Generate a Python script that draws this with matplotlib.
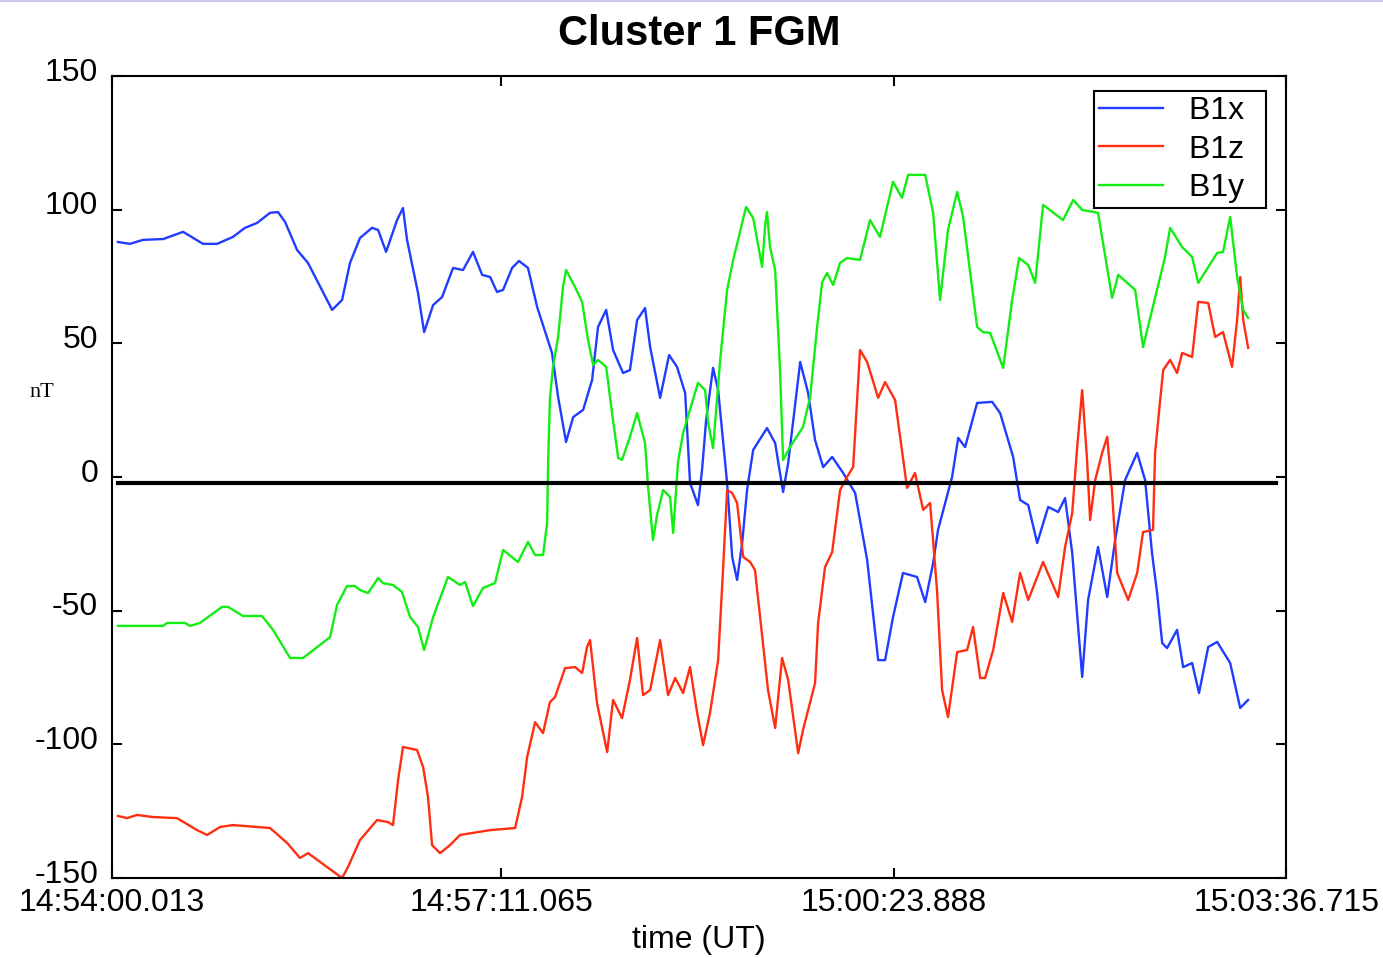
import matplotlib
matplotlib.use("Agg")
import matplotlib.pyplot as plt
import matplotlib.transforms as mtransforms
from matplotlib.lines import Line2D

# 字体设置
plt.rcParams['font.family'] = ['Liberation Sans', 'DejaVu Sans']
plt.rcParams['axes.unicode_minus'] = False

# 时间轴 (秒, 从 14:54:00.013 起)
tick_pos = [0, 191.052, 383.875, 576.702]
tick_labels = ['14:54:00.013', '14:57:11.065', '15:00:23.888', '15:03:36.715']

# B1x (蓝)
t_x = [2.9, 8.8, 15.2, 25.1, 34.9, 44.7, 51.6, 59.4, 65.3, 71.2, 77.6, 81.5, 85.0, 90.9, 96.3,
       108.1, 113.0, 116.9, 121.8, 127.7, 130.7, 134.6, 140.0, 142.9, 144.9, 150.3, 153.3, 157.7,
       162.1, 167.5, 172.4, 177.3, 181.8, 185.7, 189.1, 192.1, 196.5, 199.9, 204.3, 208.8, 216.1,
       219.1, 223.0, 226.5, 231.4, 235.8, 238.7, 242.7, 246.1, 251.0, 254.4, 257.9, 261.8, 264.3,
       269.2, 273.6, 277.5, 281.5, 283.9, 287.8, 289.8, 291.8, 295.2, 297.7, 302.1, 304.6, 307.0,
       309.5, 311.9, 314.9, 321.7, 325.7, 329.6, 332.1, 338.0, 341.9, 345.3, 349.3, 353.7, 359.1,
       365.0, 370.9, 376.3, 379.7, 383.6, 388.5, 395.4, 399.4, 403.3, 405.7, 412.6, 415.6, 419.0,
       424.9, 432.3, 436.2, 442.6, 446.0, 450.0, 454.4, 459.8, 464.7, 468.1, 471.6, 476.5, 479.4,
       484.3, 488.8, 492.7, 497.6, 503.5, 507.4, 510.8, 513.3, 515.8, 518.2, 523.1, 526.1, 530.5,
       533.9, 538.4, 542.8, 549.2, 554.1, 558.0]
b1x = [87.9, 87.2, 88.7, 89.0, 91.7, 87.2, 87.2, 89.8, 93.2, 95.0, 98.8, 99.1, 95.4, 84.9, 80.0,
       62.5, 66.2, 80.1, 89.4, 93.2, 92.4, 84.2, 96.1, 100.6, 88.7, 68.8, 54.2, 64.3,
       67.3, 78.2, 77.4, 84.2, 75.6, 74.8, 69.2, 70.0, 78.2, 80.8, 78.2, 63.6, 46.4,
       29.9, 13.1, 22.4, 25.1, 36.3, 56.1, 62.5, 47.5, 38.9, 40.0, 58.7, 63.2, 48.6,
       29.6, 45.6, 41.2, 31.4, -2.2, -10.5, 2.6, 21.3, 40.8, 32.5, -2.2, -29.9, -38.5,
       -24.7, -4.9, 10.1, 18.3, 12.7, -5.6, 5.2, 43.0, 31.4, 13.8, 3.7, 7.5, 1.5,
       -6.0, -31.1, -68.5, -68.5, -52.4, -35.9, -37.4, -46.8, -32.2, -19.8, 0.0, 14.6, 11.2,
       27.7, 28.1, 23.9, 7.5, -8.6, -10.5, -24.7, -11.2, -13.1, -7.9, -28.4, -74.8, -46.0,
       -26.2, -44.9, -23.6, -1.1, 9.0, -1.1, -28.4, -43.4, -62.1, -64.0, -57.2, -71.1, -69.6,
       -80.8, -63.6, -61.7, -69.6, -86.4, -83.4]

# B1z (红)
t_z = [2.9, 7.4, 12.3, 20.1, 31.9, 41.8, 46.7, 53.1, 59.4, 77.6, 86.0, 92.3, 96.3, 105.6, 113.0,
       115.9, 121.8, 130.2, 135.6, 138.0, 140.5, 142.9, 149.8, 152.8, 155.2, 157.2, 161.1, 166.0,
       170.9, 185.7, 198.0, 201.4, 203.9, 207.8, 211.7, 215.1, 217.6, 222.5, 227.4, 230.9, 233.3,
       234.8, 238.2, 243.2, 246.1, 250.5, 254.4, 257.9, 260.8, 264.3, 269.2, 273.1, 276.6, 280.5,
       283.9, 287.4, 290.3, 293.7, 297.7, 300.1, 302.1, 304.6, 307.0, 310.0, 313.4, 315.8, 322.2,
       325.7, 329.1, 332.1, 337.0, 339.4, 345.3, 346.8, 350.2, 353.7, 357.6, 361.0, 364.0, 367.4,
       370.9, 376.3, 379.7, 384.6, 390.5, 394.4, 398.4, 401.8, 405.2, 407.7, 410.6, 415.1, 420.0,
       422.9, 426.4, 428.8, 432.8, 437.7, 442.1, 446.0, 450.0, 457.3, 464.7, 468.1, 471.6, 474.0,
       476.5, 478.9, 480.4, 482.9, 486.3, 488.8, 491.2, 493.7, 499.1, 503.5, 506.4, 511.3, 512.3,
       514.8, 516.3, 519.7, 523.1, 525.6, 530.5, 533.5, 538.4, 541.8, 545.7, 550.1, 552.6, 554.1,
       555.6, 558.0]
b1z = [-126.8, -127.6, -126.4, -127.2, -127.6, -132.1, -133.9, -130.9, -130.2, -131.3, -136.9, -142.5,
       -140.7, -145.9, -150.0, -145.9, -135.8, -128.3, -129.1, -130.2, -113.4, -101.0, -102.1, -108.5,
       -119.7, -137.7, -140.7, -137.7, -133.9, -132.1, -131.3, -119.7, -104.7, -91.7, -95.8, -84.2,
       -82.3, -71.5, -71.1, -73.3, -63.6, -61.0, -84.5, -102.9, -83.4, -90.2, -75.9, -60.2, -81.6,
       -79.7, -61.0, -81.6, -75.2, -80.8, -71.1, -88.3, -100.3, -88.3, -68.5, -34.8, -4.9, -6.0,
       -9.7, -29.9, -31.8, -34.8, -79.7, -93.9, -67.7, -75.9, -103.3, -94.6, -77.1, -54.6, -33.7,
       -28.1, -4.9, 0.0, 3.7, 47.5, 43.0, 29.6, 35.5, 28.8, -4.1, 1.5, -12.3, -9.7, -42.3, -79.7,
       -89.8, -65.5, -64.7, -56.1, -75.2, -75.2, -64.7, -43.4, -54.2, -35.9, -46.0, -31.8, -44.9,
       -26.2, -13.5, 10.8, 32.5, 6.4, -16.1, -1.1, 9.0, 15.0, -6.0, -35.9, -46.0, -35.9, -20.6,
       -19.8, 9.0, 28.8, 40.0, 43.8, 38.9, 46.4, 44.9, 65.5, 65.1, 52.4, 54.2, 41.2, 58.7, 74.8,
       58.7, 48.3]

# B1y (绿)
t_y = [2.9, 25.1, 27.0, 35.9, 38.3, 43.2, 54.0, 57.0, 64.3, 73.7, 79.1, 87.4, 93.8, 107.1, 110.5,
       115.4, 119.4, 121.8, 125.8, 130.7, 133.1, 138.0, 142.4, 146.4, 150.3, 153.3, 157.7, 165.0,
       170.9, 173.4, 177.3, 182.2, 188.1, 192.1, 199.4, 204.3, 207.8, 211.7, 213.7, 214.2, 215.1,
       216.6, 219.1, 221.5, 223.0, 227.4, 230.9, 233.8, 236.3, 238.7, 242.7, 245.6, 248.6, 250.5,
       254.4, 257.9, 261.8, 263.3, 265.7, 267.7, 270.7, 274.1, 275.6, 278.0, 280.5, 287.8, 291.3,
       292.8, 295.2, 298.7, 302.1, 305.1, 307.5, 311.4, 314.9, 319.3, 320.8, 321.7, 323.2, 325.7,
       328.1, 329.6, 333.0, 339.4, 342.9, 346.3, 348.8, 351.2, 354.2, 357.6, 361.0, 367.4, 372.3,
       377.2, 383.6, 388.0, 391.0, 399.4, 403.3, 406.7, 410.6, 415.1, 418.0, 424.9, 427.8, 431.3,
       437.7, 442.1, 445.5, 450.0, 453.4, 457.3, 467.1, 472.1, 476.5, 484.3, 488.8, 491.2, 494.2,
       502.5, 506.4, 517.2, 519.7, 525.6, 530.5, 533.5, 542.8, 545.7, 549.2, 552.6, 555.6, 558.0]
b1y = [-55.7, -55.7, -54.6, -54.6, -55.7, -54.6, -48.6, -48.6, -52.0, -52.0, -57.2, -67.7, -67.7,
       -59.9, -47.9, -40.8, -40.8, -42.3, -43.4, -37.8, -39.7, -40.4, -43.0, -52.4, -56.1, -64.7,
       -52.4, -37.4, -40.4, -39.3, -48.3, -41.5, -39.7, -27.3, -31.8, -24.3, -29.2, -29.2, -17.2,
       5.6, 29.6, 41.2, 52.4, 71.1, 77.4, 71.1, 65.5, 51.3, 41.9, 43.8, 41.2, 23.9, 7.1, 6.4,
       15.0, 23.9, 12.7, -3.7, -23.6, -14.2, -4.9, -7.5, -20.9, 5.6, 16.5, 35.2, 32.5,
       20.2, 10.8, 43.8, 70.0, 81.2, 88.7, 101.0, 96.9, 78.6, 94.3, 99.1, 86.0, 77.4,
       40.0, 6.4, 11.2, 18.7, 29.9, 56.1, 72.9, 76.3, 71.8, 80.1, 81.9, 81.2, 96.1,
       89.8, 110.4, 104.4, 113.0, 113.0, 98.8, 66.2, 92.4, 106.6, 97.3, 56.1, 54.2, 53.9,
       40.8, 66.2, 81.9, 79.3, 72.6, 101.8, 96.1, 103.6, 99.9, 98.8, 78.2, 67.0, 75.6,
       70.0, 48.6, 82.3, 93.2, 86.0, 82.3, 72.6, 83.8, 84.2, 97.3, 74.8, 62.5, 59.5]

fig = plt.figure(figsize=(13.83, 9.58), dpi=100)
ax = fig.add_axes([0.081, 0.0835, 0.849, 0.8372])

# 画线
l1, = ax.plot(t_x, b1x, color='#1f3cff', lw=1.7)
l2, = ax.plot(t_z, b1z, color='#ff2e10', lw=1.7)
l3, = ax.plot(t_y, b1y, color='#12ee12', lw=1.7)

# 零线 (稍低于0)
ax.axhline(-2.2, xmin=0.005, xmax=0.991, color='black', lw=3)

ax.set_xlim(0, 576.702)
ax.set_ylim(-150, 150)
ax.set_xticks(tick_pos)
ax.set_xticklabels(tick_labels)
ax.set_yticks([-150, -100, -50, 0, 50, 100, 150])
ax.tick_params(direction='in', length=7, width=1.5, labelsize=23,
               top=True, right=True)
ax.tick_params(axis='x', pad=7)
ax.tick_params(axis='y', pad=10)
for s in ax.spines.values():
    s.set_linewidth(1.5)

# y 轴刻度文字略微上移
up = mtransforms.ScaledTranslation(0, 5 / 72, fig.dpi_scale_trans)
for lab in ax.get_yticklabels():
    lab.set_transform(lab.get_transform() + up)

ax.set_title('Cluster 1 FGM', fontsize=30, fontweight='bold', pad=22)
ax.set_xlabel('time (UT)', fontsize=23, labelpad=5)
fig.text(0.03, 0.59, 'nT', fontsize=16, family='Liberation Serif', ha='center', va='center')

# 图例
leg = ax.legend([l1, l2, l3], ['B1x  ', 'B1z  ', 'B1y  '], loc='upper right',
                bbox_to_anchor=(0.983, 0.981), borderaxespad=0, fontsize=23,
                fancybox=False, framealpha=1, edgecolor='black', handlelength=2.0,
                labelspacing=0.27, borderpad=0.15, handletextpad=0.8)
leg.get_frame().set_linewidth(1.5)

# 顶部浅蓝色边线
fig.add_artist(Line2D([0, 1], [0.999, 0.999], color='#c8c8f0', lw=1.5))

plt.savefig('out.png')
